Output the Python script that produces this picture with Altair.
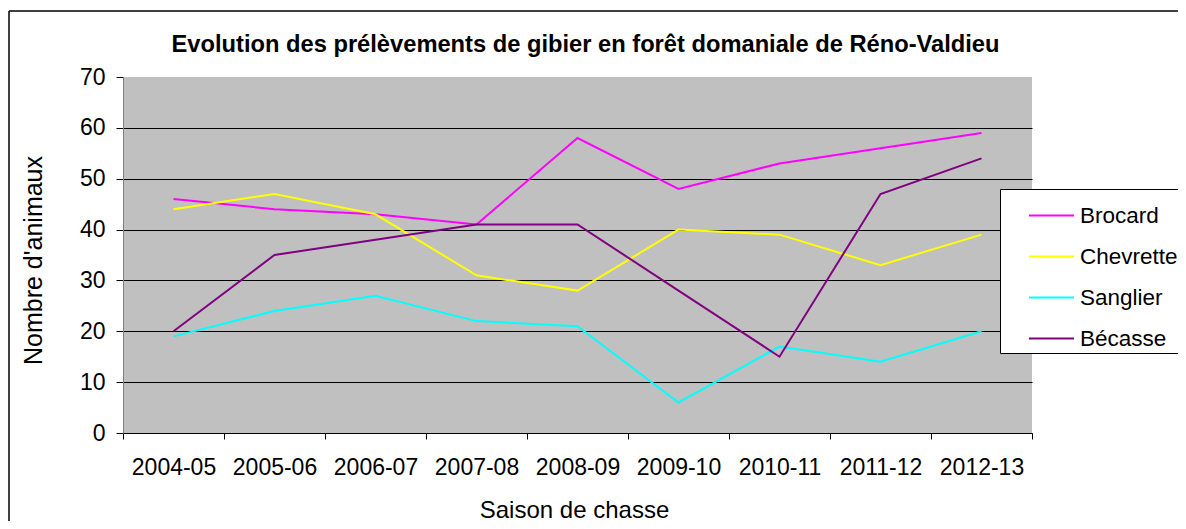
import altair as alt
import pandas as pd

saisons = ["2004-05", "2005-06", "2006-07", "2007-08", "2008-09",
           "2009-10", "2010-11", "2011-12", "2012-13"]
especes = ["Brocard", "Chevrette", "Sanglier", "Bécasse"]
brocard = [46, 44, 43, 41, 58, 48, 53, 56, 59]
chevrette = [44, 47, 43, 31, 28, 40, 39, 33, 39]
sanglier = [19, 24, 27, 22, 21, 6, 17, 14, 20]
becasse = [20, 35, 38, 41, 41, 28, 15, 47, 54]
couleurs = ["#FF00FF", "#FFFF00", "#00FFFF", "#800080"]

series = [brocard, chevrette, sanglier, becasse]
rows = []
for nom, vals in zip(especes, series):
    for s, v in zip(saisons, vals):
        rows.append({"Saison": s, "Espece": nom, "Nombre": v})
df = pd.DataFrame(rows)

FONT = "Liberation Sans"

lines = alt.Chart(df).mark_line(strokeWidth=2).encode(
    x=alt.X("Saison:N", sort=saisons,
            scale=alt.Scale(type="band", paddingInner=0, paddingOuter=0),
            axis=alt.Axis(title="Saison de chasse", labelAngle=0,
                          tickBand="extent", tickSize=6, tickColor="#000000",
                          domainColor="#000000", labelFontSize=23,
                          labelPadding=17, labelFont=FONT, labelColor="#000000",
                          titleFont=FONT, titleFontSize=24, titleFontWeight="normal",
                          titleColor="#000000", titleX=451, titleY=84,
                          titleBaseline="alphabetic", grid=False)),
    y=alt.Y("Nombre:Q",
            scale=alt.Scale(domain=[0, 70], nice=False),
            axis=alt.Axis(title="Nombre d'animaux", values=list(range(0, 71, 10)),
                          tickSize=7, tickColor="#000000", domainColor="#808080",
                          labelFontSize=23, labelPadding=11, labelFont=FONT,
                          labelColor="#000000", titleFont=FONT, titleFontSize=25,
                          titleFontWeight="normal", titleColor="#000000",
                          titleX=-82, titleY=183, titleBaseline="alphabetic",
                          grid=True, gridColor="#000000", gridWidth=1,
                          gridOpacity={"condition": {"test": "datum.value == 70", "value": 0}, "value": 1})),
    color=alt.Color("Espece:N", sort=especes,
                    scale=alt.Scale(domain=especes, range=couleurs),
                    legend=alt.Legend(title=None, orient="none", legendX=877, legendY=112,
                                      symbolType="stroke", symbolSize=2025,
                                      symbolStrokeWidth=2, labelFontSize=22.5,
                                      labelFont=FONT, labelColor="#000000",
                                      labelOffset=5, rowPadding=6, padding=3,
                                      symbolOffset=25, fillColor="#FFFFFF",
                                      strokeColor="#000000")),
    order=alt.Order("Espece:N"),
)

bord_gauche = alt.Chart(pd.DataFrame({"g": [0]})).mark_rule(
    color="#000000", strokeWidth=1.5
).encode(
    x=alt.value(-114), x2=alt.value(-114), y=alt.value(-66), y2=alt.value(700)
)
bord_haut = alt.Chart(pd.DataFrame({"h": [0]})).mark_rule(
    color="#000000", strokeWidth=1.5
).encode(
    x=alt.value(-114), x2=alt.value(1300), y=alt.value(-66), y2=alt.value(-66)
)

chart = alt.layer(bord_gauche, bord_haut, lines).properties(
    width=909, height=356,
    background="#FFFFFF",
    title=alt.TitleParams(
        "Evolution des prélèvements de gibier en forêt domaniale de Réno-Valdieu",
        font=FONT, fontSize=23.7, fontWeight="bold", color="#000000",
        anchor="middle", dx=8, offset=-65, baseline="alphabetic"),
    autosize=alt.AutoSizeParams(type="none"),
    padding={"left": 115, "top": 69, "right": 146, "bottom": 88},
).configure_view(fill="#C0C0C0", stroke=None)

chart.save("out.html", embed_options={"renderer": "svg", "actions": False})
